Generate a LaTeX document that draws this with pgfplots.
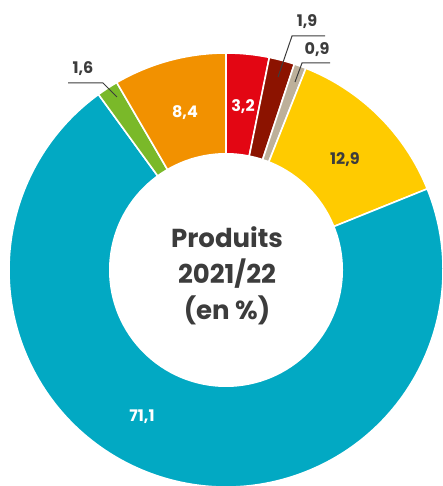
\documentclass[border=0pt]{standalone}
\usepackage{pgfplots}
\pgfplotsset{compat=1.18}
\usepackage{fontspec}
\setmainfont{Poppins}
\definecolor{cRed}{HTML}{E30613}
\definecolor{cDark}{HTML}{8C1300}
\definecolor{cBeige}{HTML}{BDB09A}
\definecolor{cYel}{HTML}{FFCB00}
\definecolor{cTeal}{HTML}{02A9C3}
\definecolor{cGreen}{HTML}{7AB929}
\definecolor{cOrange}{HTML}{F29100}
\definecolor{txt}{HTML}{3C3C3C}
\begin{document}
\begin{tikzpicture}
\begin{axis}[x=1pt,y=1pt,xmin=0,xmax=443,ymin=0,ymax=486,hide axis,scale only axis,clip=true]
\gdef\cum{0}
\foreach \v/\c in {3.2/cRed,1.9/cDark,0.9/cBeige,12.9/cYel,71.1/cTeal,1.6/cGreen,8.4/cOrange}{%
  \pgfmathsetmacro\sa{90-3.6*\cum}%
  \pgfmathsetmacro\ea{90-3.6*(\cum+\v)}%
  \pgfmathsetmacro\newcum{\cum+\v}\xdef\cum{\newcum}%
  \edef\tmp{\noexpand\fill[\c, draw=white, line width=1.6pt] (axis cs:226,216) -- ++(\sa:217pt) arc[start angle=\sa, end angle=\ea, radius=217pt] -- cycle;}%
  \tmp
}
\fill[white] (axis cs:226,216) circle[radius=117pt];
\begin{scope}[font=\bfseries\fontsize{16}{18}\selectfont]
\node[text=white] at (axis cs:243,379) {3,2};
\node[text=white] at (axis cs:185,373) {8,4};
\node[text=white] at (axis cs:142,69) {71,1};
\node[text=txt] at (axis cs:345,326) {12,9};
\node[text=txt] at (axis cs:307,464) {1,9};
\node[text=txt] at (axis cs:317,436) {0,9};
\node[text=txt] at (axis cs:83,417) {1,6};
\end{scope}
\draw[txt, line width=1pt] (axis cs:278,409) -- (axis cs:292,450) -- (axis cs:325,450);
\draw[txt, line width=1pt] (axis cs:295,404) -- (axis cs:302,423) -- (axis cs:330,423);
\draw[txt, line width=1pt] (axis cs:117,389) -- (axis cs:103,403) -- (axis cs:68,403);
\node[align=center, text=txt, font=\bfseries\fontsize{26}{36}\selectfont] at (axis cs:227,210) {Produits\\2021/22\\(en \%)};
\end{axis}
\pgfresetboundingbox
\path[use as bounding box] (current axis.south west) rectangle (current axis.north east);
\end{tikzpicture}
\end{document}
